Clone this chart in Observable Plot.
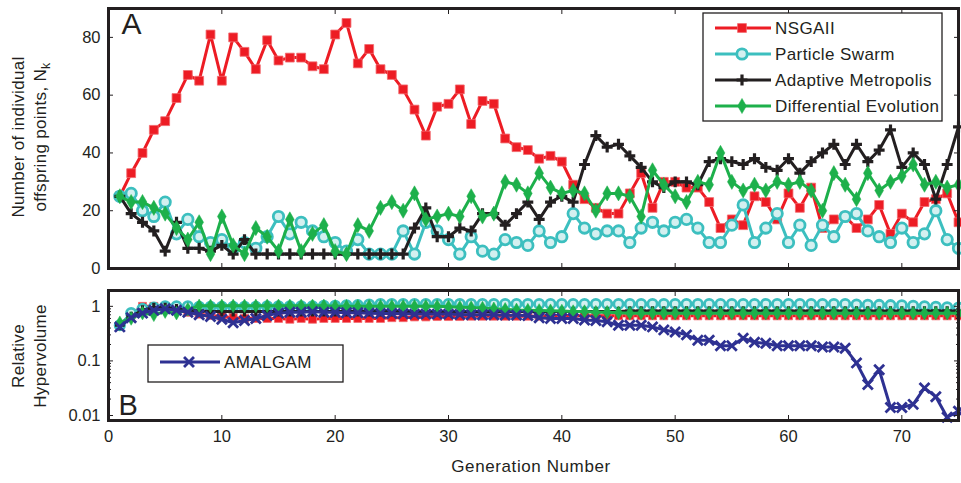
<!DOCTYPE html>
<html><head><meta charset="utf-8">
<script src="https://cdn.jsdelivr.net/npm/d3@7"></script>
<script src="https://cdn.jsdelivr.net/npm/@observablehq/plot@0.6"></script>
<style>
body{margin:0;background:#fff;}
#chart{width:961px;height:483px;}
#chart svg{display:block;}
</style></head><body><div id="chart"></div>
<script>
// ---------- data ----------
const generations = d3.range(1, 76);
const seriesNames = ["NSGAII", "Particle Swarm", "Adaptive Metropolis", "Differential Evolution"];
const amalgamName = "AMALGAM";

// Panel A: number of individual offspring points N_k
const nsgaN = [25,33,40,48,51,59,67,65,81,65,80,75,69,79,72,73,73,70,69,81,85,71,76,69,67,62,55,46,56,57,62,50,58,57,45,42,41,38,39,37,29,24,21,19,19,26,33,21,30,30,28,28,23,14,17,15,25,23,17,26,21,28,14,17,18,14,17,22,12,19,16,23,24,26,16];
const psoN  = [25,26,20,18,23,12,17,11,9,10,7,9,7,11,18,12,16,13,11,9,6,10,5,5,5,13,5,16,13,10,5,11,6,5,10,9,8,13,9,11,19,14,12,13,13,9,14,16,13,16,17,14,9,9,15,22,9,14,19,9,15,8,15,11,18,19,13,11,9,14,9,12,20,10,7];
const amN   = [25,19,16,13,6,16,7,7,6,8,5,10,5,5,5,5,5,5,5,5,5,5,5,5,5,5,14,21,11,11,14,13,19,19,15,19,23,17,23,25,23,36,46,42,43,39,35,30,28,30,30,29,37,38,37,36,38,35,34,38,33,37,40,43,36,43,37,41,48,35,40,36,24,36,49];
const deN   = [25,23,23,21,19,14,10,16,5,18,8,5,14,11,6,17,6,12,15,6,5,15,13,21,23,20,26,17,18,19,18,25,18,19,30,29,26,33,28,26,27,26,20,26,26,25,18,34,29,25,23,30,29,40,30,27,29,27,30,29,30,27,20,33,29,24,33,27,30,32,36,29,30,28,29];

// Panel B: relative hypervolume
const nsgaHV = [0.45,0.72,1.0,1.0,0.95,0.85,0.78,0.72,0.68,0.65,0.62,0.6,0.6,0.6,0.6,0.58,0.6,0.58,0.6,0.6,0.6,0.6,0.6,0.6,0.62,0.62,0.64,0.64,0.65,0.65,0.65,0.66,0.66,0.66,0.66,0.66,0.66,0.66,0.67,0.67,0.67,0.67,0.67,0.67,0.67,0.67,0.67,0.67,0.67,0.67,0.67,0.67,0.67,0.67,0.67,0.67,0.67,0.67,0.67,0.67,0.67,0.67,0.67,0.67,0.67,0.67,0.67,0.67,0.67,0.67,0.67,0.67,0.67,0.67,0.67];
const psoHV  = [0.45,0.75,0.9,0.95,1.0,1.0,1.0,0.98,0.98,0.98,0.98,0.98,0.98,1.0,1.0,1.0,1.0,1.0,1.02,1.02,1.04,1.05,1.08,1.1,1.1,1.1,1.1,1.1,1.1,1.1,1.1,1.1,1.1,1.1,1.1,1.1,1.1,1.1,1.1,1.1,1.1,1.1,1.1,1.1,1.1,1.1,1.1,1.1,1.1,1.1,1.1,1.1,1.1,1.1,1.1,1.1,1.1,1.1,1.1,1.1,1.1,1.1,1.1,1.1,1.1,1.08,1.07,1.06,1.05,1.04,1.02,1.0,0.98,0.96,0.95];
const amHV   = [0.45,0.65,0.85,0.95,0.95,0.9,0.85,0.82,0.8,0.8,0.8,0.8,0.8,0.8,0.8,0.8,0.8,0.8,0.8,0.8,0.8,0.8,0.8,0.8,0.8,0.8,0.8,0.8,0.8,0.8,0.8,0.8,0.8,0.8,0.8,0.8,0.8,0.8,0.8,0.8,0.8,0.8,0.8,0.8,0.8,0.82,0.82,0.82,0.82,0.82,0.82,0.82,0.82,0.82,0.82,0.82,0.82,0.82,0.82,0.82,0.82,0.82,0.82,0.82,0.82,0.82,0.82,0.82,0.82,0.82,0.82,0.82,0.82,0.82,0.82];
const deHV   = [0.5,0.6,0.75,0.7,0.8,0.75,0.88,1.02,1.02,1.02,1.02,1.02,1.02,1.02,1.02,1.02,1.02,1.02,1.02,1.0,1.0,1.0,1.0,1.0,1.0,1.0,1.0,1.0,1.0,0.98,0.96,0.95,0.93,0.9,0.88,0.86,0.85,0.84,0.83,0.82,0.8,0.8,0.78,0.78,0.76,0.75,0.75,0.75,0.75,0.75,0.75,0.75,0.75,0.75,0.75,0.75,0.75,0.75,0.75,0.75,0.75,0.75,0.75,0.75,0.75,0.75,0.75,0.75,0.75,0.75,0.75,0.75,0.75,0.75,0.75];
const amalgamHV = [0.42,0.62,0.75,0.85,0.9,0.85,0.78,0.7,0.65,0.58,0.5,0.55,0.6,0.68,0.75,0.78,0.78,0.8,0.78,0.78,0.76,0.76,0.75,0.74,0.74,0.73,0.72,0.72,0.72,0.72,0.71,0.7,0.7,0.7,0.69,0.69,0.68,0.62,0.6,0.6,0.6,0.56,0.55,0.52,0.45,0.45,0.45,0.42,0.37,0.34,0.3,0.24,0.24,0.19,0.19,0.26,0.22,0.21,0.19,0.19,0.19,0.19,0.18,0.18,0.17,0.092,0.037,0.069,0.014,0.014,0.016,0.032,0.022,0.0093,0.012];

// ticks
const xTicks = [0,10,20,30,40,50,60,70];
const yTicksA = [0,20,40,60,80];
const yTicksB = [0.01,0.1,1];
const yMinorB = [0.02,0.03,0.04,0.05,0.06,0.07,0.08,0.09,0.2,0.3,0.4,0.5,0.6,0.7,0.8,0.9];

// ---------- styling ----------
const FONT = "'Liberation Sans', Arial, Helvetica, sans-serif";
const INK = "#231f20";
const colors = ["#ed1c24", "#3cbfbf", "#231f20", "#1db04b"];
const amalgamColor = "#2e3192";
const symbols = ["square", "circle", "plus", "diamond"];
const radii = [5, 5.2, 3.6, 4.6];

function rows(values, name) { return values.map((v, i) => ({gen: generations[i], value: v, series: name})); }

function markerStyle(k) {
  const c = colors[k];
  if (k === 0) return {fill: c, stroke: "#f36a6e", strokeWidth: 0.8};
  if (k === 1) return {fill: "#d4f0f0", stroke: c, strokeWidth: 2.8};
  if (k === 2) return {fill: "none", stroke: c, strokeWidth: 3.2};
  return {fill: c, stroke: c, strokeWidth: 0.5};
}

function seriesMarks(values, k, rScale = 1) {
  const data = rows(values, seriesNames[k]);
  return [
    Plot.line(data, {x: "gen", y: "value", stroke: colors[k], strokeWidth: 3}),
    Plot.dot(data, {x: "gen", y: "value", symbol: symbols[k], r: radii[k] * rScale, ...markerStyle(k)})
  ];
}

const common = {
  width: 961, marginLeft: 108, marginRight: 3,
  style: {fontFamily: FONT, fontSize: "16.5px", color: INK, background: "white"},
  x: {domain: [0, 75]}
};

function boxTicks(yTicks, labelFmt, xLabels) {
  return [
    Plot.axisY(yTicks, {anchor: "left", tickSize: 5, dx: 5, tickPadding: 8, tickFormat: labelFmt, label: null, stroke: INK}),
    Plot.axisY(yTicks, {anchor: "right", tickSize: 5, dx: -5, tickFormat: () => "", label: null, stroke: INK}),
    Plot.axisX(xTicks, {anchor: "top", tickSize: 5, dy: 5, tickFormat: () => "", label: null, stroke: INK}),
    Plot.axisX(xTicks, {anchor: "bottom", tickSize: 5, dy: -5, tickPadding: 10, tickFormat: xLabels ? (d => String(d)) : (() => ""), label: null, stroke: INK})
  ];
}

// ---------- panel A ----------
const plotA = Plot.plot({
  ...common, height: 280, marginTop: 8, marginBottom: 12,
  y: {domain: [0, 90]},
  marks: [
    ...seriesMarks(nsgaN, 0),
    ...seriesMarks(psoN, 1),
    ...seriesMarks(amN, 2),
    ...seriesMarks(deN, 3),
    ...boxTicks(yTicksA, d => String(d), false),
    Plot.text(["A"], {frameAnchor: "top-left", dx: 13, dy: 4, fontSize: 30, textAnchor: "start", lineAnchor: "top", fill: INK}),
    Plot.frame({stroke: INK, strokeWidth: 3})
  ]
});

// ---------- panel B ----------
const plotB = Plot.plot({
  ...common, height: 203, marginTop: 10, marginBottom: 63,
  y: {type: "log", domain: [0.0081, 1.95]},
  marks: [
    ...seriesMarks(nsgaHV, 0, 0.9),
    ...seriesMarks(psoHV, 1, 0.9),
    ...seriesMarks(amHV, 2, 0.9),
    ...seriesMarks(deHV, 3, 0.9),
    Plot.line(rows(amalgamHV, amalgamName), {x: "gen", y: "value", stroke: amalgamColor, strokeWidth: 3}),
    Plot.dot(rows(amalgamHV, amalgamName), {x: "gen", y: "value", symbol: "times", r: 4.6, stroke: amalgamColor, strokeWidth: 2.8}),
    ...boxTicks(yTicksB, d => String(d), true),
    Plot.axisY(yMinorB, {anchor: "left", tickSize: 3, dx: 3, tickFormat: () => "", label: null, stroke: INK}),
    Plot.axisY(yMinorB, {anchor: "right", tickSize: 3, dx: -3, tickFormat: () => "", label: null, stroke: INK}),
    Plot.text(["B"], {frameAnchor: "bottom-left", dx: 10, dy: -6, fontSize: 29, textAnchor: "start", lineAnchor: "bottom", fill: INK}),
    Plot.frame({stroke: INK, strokeWidth: 3})
  ]
});

const root = document.getElementById("chart");
root.appendChild(plotA);
root.appendChild(plotB);

// ---------- axis labels & legends ----------
const LABEL_SIZE = 17;
function rotLabel(svg, lines, cy) {
  lines.forEach(([x, parts]) => {
    const t = svg.append("text")
      .attr("transform", `translate(${x},${cy}) rotate(-90)`)
      .attr("text-anchor", "middle")
      .attr("font-family", FONT).attr("font-size", LABEL_SIZE).attr("fill", INK)
      .attr("letter-spacing", "0.3px");
    parts.forEach(p => {
      const ts = t.append("tspan").text(p.text);
      if (p.sub) ts.attr("font-size", LABEL_SIZE * 0.72).attr("dy", "0.3em");
    });
  });
}
const svgA = d3.select(plotA);
const svgB = d3.select(plotB);
rotLabel(svgA, [[24, [{text: "Number of individual"}]], [46, [{text: "offspring points, N"}, {text: "k", sub: true}]]], 137);
rotLabel(svgB, [[24, [{text: "Relative"}]], [46, [{text: "Hypervolume"}]]], 76);

svgB.append("text").attr("x", 531).attr("y", 192).attr("text-anchor", "middle")
  .attr("font-family", FONT).attr("font-size", LABEL_SIZE).attr("letter-spacing", "0.6px")
  .attr("fill", INK).text("Generation Number");

const symbolTypes = {square: d3.symbolSquare, circle: d3.symbolCircle, plus: d3.symbolPlus, diamond: d3.symbolDiamond, times: d3.symbolTimes};
function legendSymbol(g, k, cx, cy) {
  const s = markerStyle(k);
  g.append("path").attr("transform", `translate(${cx},${cy})`)
    .attr("d", d3.symbol(symbolTypes[symbols[k]], Math.PI * radii[k] * radii[k])())
    .attr("fill", s.fill).attr("stroke", s.stroke).attr("stroke-width", s.strokeWidth);
}

const legA = svgA.append("g").attr("text-anchor", "start");
legA.append("rect").attr("x", 703).attr("y", 13).attr("width", 239).attr("height", 108)
  .attr("fill", "white").attr("stroke", INK).attr("stroke-width", 1.3);
seriesNames.forEach((name, k) => {
  const cy = 28 + k * 26;
  legA.append("line").attr("x1", 715).attr("x2", 771).attr("y1", cy).attr("y2", cy)
    .attr("stroke", colors[k]).attr("stroke-width", 3);
  legendSymbol(legA, k, 742, cy);
  legA.append("text").attr("x", 775).attr("y", cy).attr("dy", "0.35em").attr("text-anchor", "start")
    .attr("font-family", FONT).attr("font-size", LABEL_SIZE).attr("letter-spacing", "0.4px")
    .attr("fill", INK).text(name);
});

const legB = svgB.append("g").attr("text-anchor", "start");
legB.append("rect").attr("x", 148).attr("y", 65).attr("width", 195).attr("height", 37)
  .attr("fill", "white").attr("stroke", INK).attr("stroke-width", 1.3);
legB.append("line").attr("x1", 160).attr("x2", 220).attr("y1", 82).attr("y2", 82)
  .attr("stroke", amalgamColor).attr("stroke-width", 3);
legB.append("path").attr("transform", "translate(189,82)")
  .attr("d", d3.symbol(d3.symbolTimes, Math.PI * 4.6 * 4.6)())
  .attr("fill", "none").attr("stroke", amalgamColor).attr("stroke-width", 2.8);
legB.append("text").attr("x", 224).attr("y", 82).attr("dy", "0.35em").attr("text-anchor", "start")
  .attr("font-family", FONT).attr("font-size", LABEL_SIZE).attr("letter-spacing", "0.4px")
  .attr("fill", INK).text(amalgamName);
</script>
</body></html>
